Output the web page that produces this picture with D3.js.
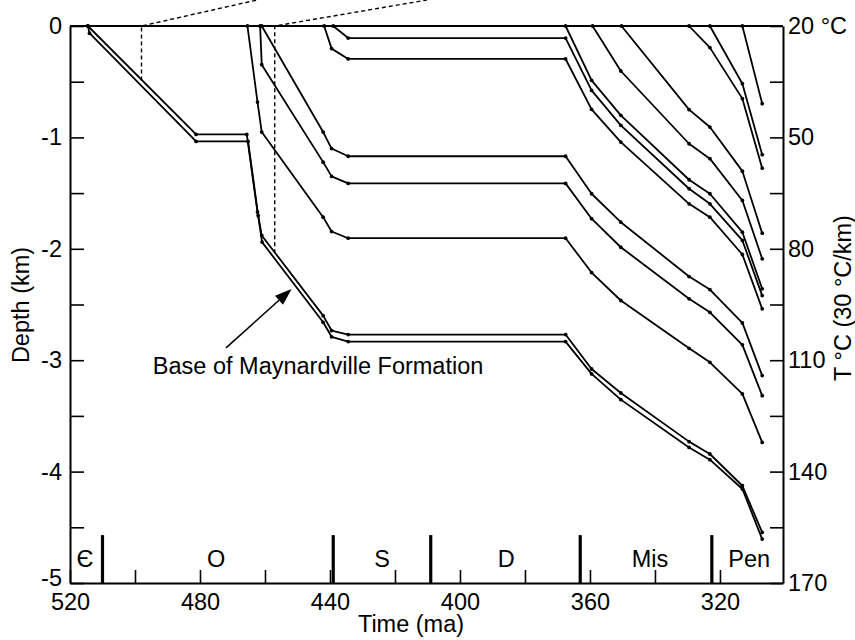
<!DOCTYPE html>
<html>
<head>
<meta charset="utf-8">
<script src="https://cdn.jsdelivr.net/npm/d3@7"></script>
<style>
body { margin: 0; background: #fff; }
svg { display: block; font-family: "Liberation Sans", Arial, Helvetica, sans-serif; }
</style>
</head>
<body>
<div id="chart"></div>
<script>
// axes values
const timeTicks = d3.range(520, 310, -20);
const timeLabels = [520, 480, 440, 400, 360, 320];
const depthTicks = d3.range(0, -5.01, -0.5);
const depthLabels = [0, -1, -2, -3, -4, -5];
const tempLabels = ["20 °C", "50", "80", "110", "140", "170"];

// geologic periods along the bottom
const periodBounds = [510, 439, 409, 363, 322.5];
const periodNames = ["Є", "O", "S", "D", "Mis", "Pen"];
const periodMid = [515.4, 475, 424, 385.8, 341.5, 311];

// burial curves, [time (ma), depth (km)]
const maynardTop = [[514.5, 0], [481.2, -0.973], [465.6, -0.973], [462.3, -1.67], [461.0, -1.88], [442.1, -2.60], [439.5, -2.734], [434.4, -2.77], [367.5, -2.77], [359.5, -3.079], [350.5, -3.294], [329.5, -3.731], [323.1, -3.842], [313.1, -4.127], [307, -4.546]];
const maynardBase = [[514.5, 0], [514, -0.065], [481.2, -1.036], [465.2, -1.036], [462.1, -1.70], [460.9, -1.94], [442.1, -2.66], [439.5, -2.79], [434.4, -2.833], [367.5, -2.833], [359.5, -3.123], [350.5, -3.354], [329.5, -3.783], [323.1, -3.893], [313.1, -4.156], [307, -4.606]];
const horizonP = [[465.4, 0], [462.3, -0.683], [461.0, -0.952], [442.1, -1.716], [439.5, -1.845], [434.4, -1.905], [367.5, -1.905], [359.5, -2.213], [350.5, -2.464], [329.5, -2.893], [323.1, -3.019], [313.1, -3.303], [307, -3.738]];
const horizonQ = [[461.5, 0], [461.0, -0.347], [442.1, -1.222], [439.5, -1.35], [434.4, -1.413], [367.5, -1.413], [359.5, -1.73], [350.5, -1.986], [329.5, -2.449], [323.1, -2.57], [313.1, -2.862], [307, -3.318]];
const horizonR = [[461.0, 0], [442.1, -0.952], [439.5, -1.10], [434.4, -1.169], [367.5, -1.169], [359.5, -1.506], [350.5, -1.761], [329.5, -2.249], [323.1, -2.366], [313.1, -2.665], [307, -3.138]];
const horizonS = [[441.8, 0], [439.5, -0.203], [434.4, -0.296], [367.5, -0.296], [359.5, -0.748], [350.5, -1.042], [329.5, -1.596], [323.1, -1.716], [313.1, -2.051], [307, -2.539]];
const horizonT = [[439.0, 0], [434.4, -0.108], [367.5, -0.108], [359.5, -0.578], [350.5, -0.892], [329.5, -1.461], [323.1, -1.596], [313.1, -1.925], [307, -2.42]];
const horizonA = [[367.5, 0], [359.5, -0.488], [350.5, -0.802], [329.5, -1.38], [323.1, -1.506], [313.1, -1.851], [307, -2.359]];
const horizonD = [[359.2, 0], [350.5, -0.404], [329.5, -1.057], [323.1, -1.191], [313.1, -1.566], [307, -2.09]];
const horizonE = [[350.3, 0], [329.5, -0.751], [323.1, -0.907], [313.1, -1.303], [307, -1.86]];
const horizonF = [[329.5, 0], [323.1, -0.194], [313.1, -0.652], [307, -1.276]];
const horizonG = [[323.1, 0], [313.1, -0.518], [307, -1.155]];
const horizonH = [[313.1, 0], [307, -0.697]];

const curves = [maynardTop, maynardBase, horizonP, horizonQ, horizonR, horizonS, horizonT,
    horizonA, horizonD, horizonE, horizonF, horizonG, horizonH];

// dashed callout lines running up out of the plot
const calloutLeft = [[498, -0.49], [498, 0], [462.5, 0.233]];
const calloutRight = [[457, -2.04], [457, 0], [410.2, 0.233]];

// annotation
const noteText = "Base of Maynardville Formation";
const notePos = [494.5, -3.12];
const arrowFrom = [472, -2.89];
const arrowTo = [451.8, -2.36];

const width = 855, height = 640;
const fontSize = 23.5;

const svg = d3.select("#chart")
    .append("svg")
    .attr("width", width)
    .attr("height", height);

const x = d3.scaleLinear().domain([520, 300.6]).range([70, 783]);
const y = d3.scaleLinear().domain([0, -5]).range([26, 583]);

// left axis
const leftAxis = svg.append("g")
    .attr("transform", `translate(${x.range()[0]},0)`)
    .call(d3.axisLeft(y)
        .tickValues(depthTicks)
        .tickSizeInner(-14)
        .tickSizeOuter(0)
        .tickPadding(8)
        .tickFormat(d => depthLabels.includes(d) ? d3.format("d")(d).replace("−", "-") : ""));

// the bottom label sits a little higher, clear of the time axis labels
leftAxis.selectAll(".tick text")
    .filter(d => d === -5)
    .attr("dy", "0.12em");

// right axis (temperature at 30 °C/km)
const rightAxis = svg.append("g")
    .attr("transform", `translate(${x.range()[1]},0)`)
    .call(d3.axisRight(y)
        .tickValues(depthTicks)
        .tickSizeInner(-13)
        .tickSizeOuter(0)
        .tickPadding(5)
        .tickFormat(d => {
            const i = depthLabels.indexOf(d);
            return i >= 0 ? tempLabels[i] : "";
        }));

// bottom axis
const bottomAxis = svg.append("g")
    .attr("transform", `translate(0,${y.range()[1]})`)
    .call(d3.axisBottom(x)
        .tickValues(timeTicks)
        .tickSizeInner(-13)
        .tickSizeOuter(0)
        .tickPadding(10)
        .tickFormat(d => timeLabels.includes(d) ? d : ""));

[leftAxis, rightAxis, bottomAxis].forEach(g => {
    g.attr("font-size", fontSize).attr("font-family", null);
    g.selectAll("text").attr("fill", "#000");
    g.selectAll("line").attr("stroke", "#000").attr("stroke-width", 1.6);
    g.select(".domain").attr("stroke", "#000").attr("stroke-width", 2);
});

// top frame line
svg.append("line")
    .attr("x1", x.range()[0]).attr("x2", x.range()[1])
    .attr("y1", y(0)).attr("y2", y(0))
    .attr("stroke", "#000")
    .attr("stroke-width", 2);

// period boundaries and names
svg.selectAll(".period-bound")
    .data(periodBounds)
    .enter()
    .append("line")
    .attr("class", "period-bound")
    .attr("x1", d => x(d)).attr("x2", d => x(d))
    .attr("y1", y(-5)).attr("y2", y(-4.57))
    .attr("stroke", "#000")
    .attr("stroke-width", 3.2);

svg.selectAll(".period-name")
    .data(periodNames)
    .enter()
    .append("text")
    .attr("class", "period-name")
    .attr("x", (d, i) => x(periodMid[i]))
    .attr("y", 567)
    .attr("text-anchor", "middle")
    .attr("font-size", fontSize)
    .text(d => d);

// dashed callouts
const line = d3.line().x(d => x(d[0])).y(d => y(d[1]));

svg.selectAll(".callout")
    .data([calloutLeft, calloutRight])
    .enter()
    .append("path")
    .attr("class", "callout")
    .attr("d", line)
    .attr("fill", "none")
    .attr("stroke", "#000")
    .attr("stroke-width", 1.4)
    .attr("stroke-dasharray", "4,3");

// burial curves
svg.selectAll(".curve")
    .data(curves)
    .enter()
    .append("path")
    .attr("class", "curve")
    .attr("d", line)
    .attr("fill", "none")
    .attr("stroke", "#000")
    .attr("stroke-width", 1.8)
    .attr("stroke-linejoin", "round");

svg.selectAll(".vertex")
    .data(curves.flat())
    .enter()
    .append("circle")
    .attr("class", "vertex")
    .attr("cx", d => x(d[0]))
    .attr("cy", d => y(d[1]))
    .attr("r", 1.9)
    .attr("fill", "#000");

// annotation arrow
const ax0 = x(arrowFrom[0]), ay0 = y(arrowFrom[1]);
const ax1 = x(arrowTo[0]), ay1 = y(arrowTo[1]);
const ang = Math.atan2(ay1 - ay0, ax1 - ax0);
const headLen = 17, headW = 6;
const bx = ax1 - headLen * Math.cos(ang), by = ay1 - headLen * Math.sin(ang);

svg.append("line")
    .attr("x1", ax0).attr("y1", ay0)
    .attr("x2", bx).attr("y2", by)
    .attr("stroke", "#000")
    .attr("stroke-width", 1.6);

svg.append("path")
    .attr("d", `M${ax1},${ay1}L${bx + headW * Math.sin(ang)},${by - headW * Math.cos(ang)}L${bx - headW * Math.sin(ang)},${by + headW * Math.cos(ang)}Z`)
    .attr("fill", "#000");

svg.append("text")
    .attr("x", x(notePos[0]))
    .attr("y", y(notePos[1]))
    .attr("font-size", fontSize)
    .text(noteText);

// axis titles
svg.append("text")
    .attr("x", 411)
    .attr("y", 632)
    .attr("text-anchor", "middle")
    .attr("font-size", fontSize)
    .text("Time (ma)");

svg.append("text")
    .attr("transform", "translate(29,305) rotate(-90)")
    .attr("text-anchor", "middle")
    .attr("font-size", fontSize)
    .text("Depth (km)");

svg.append("text")
    .attr("transform", "translate(851,298) rotate(-90)")
    .attr("text-anchor", "middle")
    .attr("font-size", fontSize)
    .text("T °C (30 °C/km)");
</script>
</body>
</html>
